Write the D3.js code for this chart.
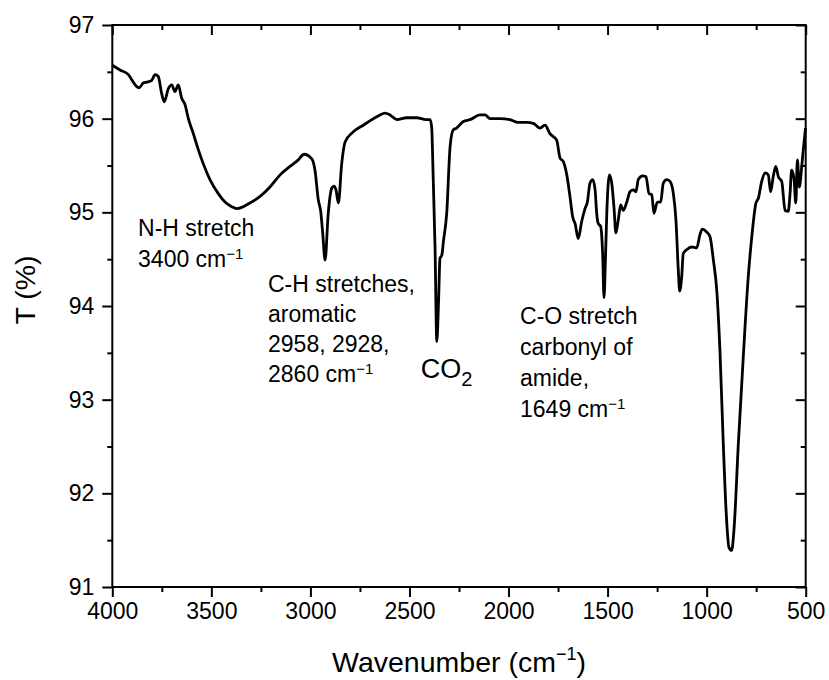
<!DOCTYPE html>
<html>
<head>
<meta charset="utf-8">
<script src="https://cdn.jsdelivr.net/npm/d3@7"></script>
<style>
  body { margin: 0; background: #fff; }
  text { font-family: "Liberation Sans", Arial, sans-serif; fill: #000; }
</style>
</head>
<body>
<div id="chart"></div>
<script>
// Canvas size
const width = 829;
const height = 680;
const margin = { top: 25, right: 23.3, bottom: 93, left: 112.3 };

// Spectrum: wavenumber (cm-1) and transmittance (%)
const wavenumber = [4000, 3961, 3919, 3894, 3880, 3864, 3844, 3826, 3801, 3784, 3768, 3751, 3738, 3717, 3700, 3684, 3667, 3650, 3633, 3616,
  3591, 3566, 3541, 3507, 3465, 3431, 3397, 3372, 3339, 3305, 3254, 3204, 3153, 3103, 3061, 3032, 2993, 2977, 2960, 2948,
  2938, 2926, 2910, 2892, 2881, 2871, 2859, 2842, 2825, 2783, 2733, 2665, 2624, 2598, 2564, 2514, 2463, 2417, 2396, 2388,
  2380, 2371, 2362, 2353, 2346, 2337, 2328, 2312, 2295, 2279, 2262, 2228, 2194, 2144, 2119, 2093, 2043, 1993, 1951, 1908,
  1875, 1841, 1816, 1791, 1757, 1740, 1723, 1706, 1690, 1676, 1664, 1648, 1631, 1614, 1602, 1589, 1575, 1563, 1555, 1547,
  1535, 1525, 1518, 1511, 1504, 1491, 1479, 1468, 1458, 1446, 1434, 1421, 1403, 1387, 1370, 1357, 1345, 1323, 1306, 1291,
  1277, 1266, 1249, 1232, 1219, 1202, 1185, 1168, 1155, 1143, 1136, 1126, 1118, 1101, 1075, 1050, 1034, 1022, 1000, 983,
  966, 949, 933, 916, 902, 887, 874, 862, 840, 815, 790, 772, 751, 739, 722, 705, 689, 677, 664, 651,
  638, 621, 604, 588, 579, 571, 559, 550, 542, 532, 520, 512, 501];
const transmittance = [96.57, 96.52, 96.47, 96.39, 96.35, 96.33, 96.38, 96.39, 96.41, 96.47, 96.45, 96.27, 96.18, 96.32, 96.36, 96.29, 96.36, 96.22, 96.15, 96.00,
  95.84, 95.67, 95.52, 95.35, 95.20, 95.11, 95.06, 95.04, 95.06, 95.10, 95.17, 95.27, 95.40, 95.49, 95.56, 95.62, 95.57, 95.45, 95.13, 95.01,
  94.78, 94.49, 94.99, 95.26, 95.28, 95.24, 95.10, 95.52, 95.75, 95.86, 95.93, 96.02, 96.06, 96.04, 95.99, 96.01, 96.01, 95.99, 95.99, 95.91,
  95.35, 94.63, 93.62, 94.06, 94.51, 94.54, 94.70, 94.99, 95.70, 95.88, 95.90, 95.97, 95.99, 96.04, 96.04, 96.00, 96.00, 95.99, 95.96, 95.96,
  95.95, 95.90, 95.93, 95.84, 95.77, 95.58, 95.54, 95.40, 95.17, 94.95, 94.88, 94.72, 94.90, 95.04, 95.11, 95.31, 95.35, 95.24, 94.99, 94.88,
  94.85, 94.56, 94.09, 94.49, 94.99, 95.40, 95.31, 95.06, 94.78, 94.92, 95.08, 95.02, 95.11, 95.22, 95.24, 95.22, 95.35, 95.39, 95.38, 95.20,
  95.19, 94.99, 95.11, 95.11, 95.31, 95.35, 95.33, 95.20, 94.92, 94.38, 94.16, 94.31, 94.56, 94.60, 94.63, 94.62, 94.76, 94.82, 94.79, 94.74,
  94.49, 94.17, 93.53, 92.53, 91.82, 91.42, 91.39, 91.61, 92.53, 93.46, 94.31, 94.74, 95.10, 95.15, 95.33, 95.42, 95.40, 95.22, 95.38, 95.49,
  95.38, 95.33, 95.02, 95.01, 95.20, 95.45, 95.36, 95.10, 95.56, 95.27, 95.49, 95.67, 95.90];

// Axis ticks
const xTicks = [4000, 3500, 3000, 2500, 2000, 1500, 1000, 500];
const xMinorTicks = [3750, 3250, 2750, 2250, 1750, 1250, 750];
const yTicks = [91, 92, 93, 94, 95, 96, 97];
const yMinorTicks = [91.5, 92.5, 93.5, 94.5, 95.5, 96.5];

// Peak labels: lines of text and where the first line starts (data units)
const labels = [
  { w: 3870, t: 94.75, step: 31, lines: [["N-H stretch"], ["3400 cm", "−1"]] },
  { w: 3214, t: 94.15, step: 30, lines: [["C-H stretches,"], ["aromatic"], ["2958, 2928,"], ["2860 cm", "−1"]] },
  { w: 1942, t: 93.81, step: 31, lines: [["C-O stretch"], ["carbonyl of"], ["amide,"], ["1649 cm", "−1"]] }
];
const co2Label = { w: 2443, t: 93.23 };

const data = wavenumber.map((w, i) => ({ w: w, t: transmittance[i] }));

const innerW = width - margin.left - margin.right;
const innerH = height - margin.top - margin.bottom;

const svg = d3.select("#chart")
  .append("svg")
  .attr("width", width)
  .attr("height", height);

const g = svg.append("g")
  .attr("transform", `translate(${margin.left}, ${margin.top})`);

// Scales
const x = d3.scaleLinear().domain([4000, 500]).range([0, innerW]);
const y = d3.scaleLinear().domain([91, 97]).range([innerH, 0]);

// Axes
function styleAxis(sel) {
  sel.select(".domain").remove();
  sel.selectAll(".tick line").attr("stroke", "#000").attr("stroke-width", 2);
  sel.selectAll(".tick text").style("font-size", "23px").style("font-family", "'Liberation Sans', Arial, sans-serif");
}

g.append("g")
  .attr("transform", `translate(0, ${innerH})`)
  .call(d3.axisBottom(x).tickValues(xTicks).tickSize(10).tickPadding(6).tickFormat(d3.format("d")))
  .call(styleAxis);
g.append("g")
  .attr("transform", `translate(0, ${innerH})`)
  .call(d3.axisBottom(x).tickValues(xMinorTicks).tickSize(5).tickFormat(""))
  .call(styleAxis);

g.append("g")
  .call(d3.axisLeft(y).tickValues(yTicks).tickSize(10).tickPadding(8).tickFormat(d3.format("d")))
  .call(styleAxis);
g.append("g")
  .call(d3.axisLeft(y).tickValues(yMinorTicks).tickSize(5).tickFormat(""))
  .call(styleAxis);

// Top and right: inward ticks, no labels
g.append("g")
  .call(d3.axisTop(x).tickValues(xTicks).tickSize(-10).tickFormat(""))
  .call(styleAxis);
g.append("g")
  .call(d3.axisTop(x).tickValues(xMinorTicks).tickSize(-5).tickFormat(""))
  .call(styleAxis);
g.append("g")
  .attr("transform", `translate(${innerW}, 0)`)
  .call(d3.axisRight(y).tickValues(yTicks).tickSize(-10).tickFormat(""))
  .call(styleAxis);
g.append("g")
  .attr("transform", `translate(${innerW}, 0)`)
  .call(d3.axisRight(y).tickValues(yMinorTicks).tickSize(-5).tickFormat(""))
  .call(styleAxis);

// Frame
g.append("rect")
  .attr("width", innerW)
  .attr("height", innerH)
  .attr("fill", "none")
  .attr("stroke", "#000")
  .attr("stroke-width", 2);

// Spectrum line
const line = d3.line()
  .x(d => x(d.w))
  .y(d => y(d.t))
  .curve(d3.curveMonotoneX);

g.append("path")
  .datum(data)
  .attr("fill", "none")
  .attr("stroke", "#000")
  .attr("stroke-width", 2.8)
  .attr("stroke-linejoin", "round")
  .attr("d", line);

// Peak labels
labels.forEach(lb => {
  const txt = g.append("text")
    .attr("x", x(lb.w))
    .attr("y", y(lb.t))
    .style("font-size", "23px");
  lb.lines.forEach((parts, i) => {
    txt.append("tspan")
      .attr("x", x(lb.w))
      .attr("y", y(lb.t) + i * lb.step)
      .text(parts[0]);
    if (parts[1]) {
      txt.append("tspan")
        .attr("dy", -8)
        .style("font-size", "15px")
        .text(parts[1]);
    }
  });
});

// CO2 label
const co2 = g.append("text")
  .attr("x", x(co2Label.w))
  .attr("y", y(co2Label.t))
  .style("font-size", "27px");
co2.append("tspan").text("CO");
co2.append("tspan").attr("dy", 8).style("font-size", "20px").text("2");

// Axis titles
const xt = svg.append("text")
  .attr("x", margin.left + innerW / 2)
  .attr("y", 672)
  .attr("text-anchor", "middle")
  .style("font-size", "28.5px");
xt.append("tspan").text("Wavenumber (cm");
xt.append("tspan").attr("dy", -12).style("font-size", "18px").text("−1");
xt.append("tspan").attr("dy", 12).text(")");

svg.append("text")
  .attr("transform", "translate(35, 290) rotate(-90)")
  .attr("text-anchor", "middle")
  .style("font-size", "28.5px")
  .text("T (%)");
</script>
</body>
</html>
